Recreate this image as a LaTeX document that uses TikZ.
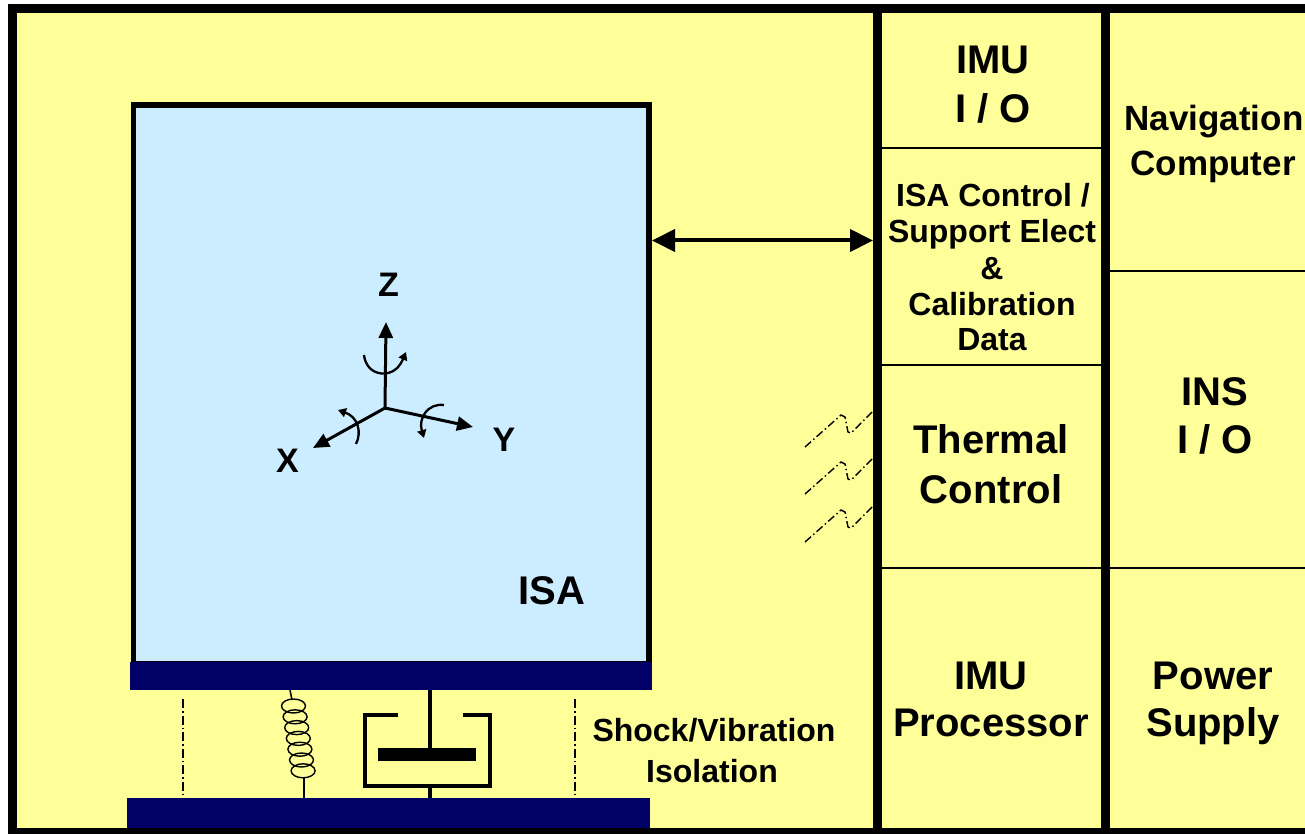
\documentclass[tikz,border=0pt]{standalone}
\usepackage{fontspec}
\setmainfont{Liberation Sans}
\usetikzlibrary{arrows.meta}
\definecolor{bgyellow}{RGB}{255,255,153}
\definecolor{isablue}{RGB}{204,236,255}
\definecolor{navybar}{RGB}{0,0,102}
\begin{document}
\begin{tikzpicture}[x=1pt,y=-1pt,
  lbl/.style={inner sep=0pt, text depth=0pt, anchor=center},
  big/.style={lbl, font=\fontsize{40}{48}\selectfont\bfseries, text height=28.6pt},
  navtxt/.style={lbl, font=\fontsize{35}{42}\selectfont\bfseries, text height=25pt},
  mid/.style={lbl, font=\fontsize{32}{38}\selectfont\bfseries, text height=22.9pt},
  axlbl/.style={lbl, font=\fontsize{34}{40}\selectfont\bfseries, text height=24.3pt},
  shock/.style={lbl, font=\fontsize{32}{38}\selectfont\bfseries, text height=22.9pt},
  thinline/.style={line width=1.5pt},
  thickline/.style={line width=9pt},
  axis/.style={line width=3pt, -{Triangle[length=16pt,width=14pt]}},
  rot/.style={line width=2.3pt, -{Triangle[length=8pt,width=9pt]}},
  dashdot/.style={line width=1.4pt, dash pattern=on 9pt off 3pt on 1.5pt off 3pt},
  heat/.style={line width=1.4pt, dash pattern=on 8pt off 3pt on 1.5pt off 3pt},
]
\useasboundingbox (0,0) rectangle (1305,834);
\fill[white] (0,0) rectangle (1305,834);
% outer frame
\draw[thickline, fill=bgyellow] (12.5,8.5) rectangle (1320,832.5);
% column dividers
\draw[thickline] (877.5,8.5) -- (877.5,832.5);
\draw[thickline] (1105.5,8.5) -- (1105.5,832.5);
\draw[thinline] (882,148) -- (1101,148);
\draw[thinline] (882,365) -- (1101,365);
\draw[thinline] (882,568) -- (1101,568);
\draw[thinline] (1110,271) -- (1316,271);
\draw[thinline] (1110,568) -- (1316,568);
% ISA box
\draw[line width=5.5pt, fill=isablue] (133.5,105) rectangle (649,664);
\fill[navybar] (130,662) rectangle (652,690);
\fill[navybar] (127,798) rectangle (650,828);
% double arrow
\coordinate (isaE) at (652,240.5);
\coordinate (panelW) at (873,240.5);
\draw[line width=4pt, {Triangle[length=23pt,width=22pt]}-{Triangle[length=23pt,width=22pt]}] (isaE) -- (panelW);
% axes
\coordinate (o) at (385,408);
\coordinate (zt) at (386,322);
\coordinate (xt) at (313,448);
\coordinate (yt) at (473,427);
\draw[axis] (o) -- (zt);
\draw[axis] (o) -- (xt);
\draw[axis] (o) -- (yt);
\draw[rot] (364,355) .. controls (366,372) and (380,375) .. (388,373) .. controls (396,371) and (400,366) .. (406,352);
\draw[rot] (356,444) .. controls (362,432) and (358,417) .. (338,410);
\draw[rot] (444,405) .. controls (428,403) and (418,418) .. (424,438);
\node[axlbl] (zl) at (388.5,284) {Z};
\node[axlbl] (xl) at (287.5,460.5) {X};
\node[axlbl] (yl) at (504,439) {Y};
\node[big] (isa) at (552,590) {ISA};
% isolation: dash-dot guides
\draw[dashdot] (183,699) -- (183,798);
\draw[dashdot] (575,699) -- (575,798);
% spring
\draw[thinline] (290,690) -- (292,700);
\foreach \i in {0,...,6} {
  \draw[line width=1.4pt] ({293.5+1.6*\i},{706+10.8*\i}) ellipse [x radius=12pt, y radius=7pt];
}
\draw[thinline] (304,778) -- (304,798);
% damper
\draw[line width=4pt] (430,690) -- (430,750);
\draw[line width=4pt] (398,715) -- (365,715) -- (365,786) -- (490,786) -- (490,715) -- (463,715);
\fill (378,748) rectangle (476,761);
\draw[line width=4pt] (430,786) -- (430,798);
\node[shock] (sv1) at (714,730) {Shock/Vibration};
\node[shock] (sv2) at (712,771) {Isolation};
% heat lines
\foreach \d in {0,47,95} {
  \draw[heat] (805,{447+\d}) -- (841,{415+\d}) -- (845,{417+\d}) -- (848,{432+\d}) -- (851,{433+\d}) -- (872,{412+\d});
}
% left column text
\node[big] (imu1) at (993,59.5) {IMU};
\node[big] (imu2) at (993,108) {I / O};
\node[mid] (c1) at (993,195.5) {ISA Control /};
\node[mid] (c2) at (992,231.5) {Support Elect};
\node[mid] (c3) at (992,268.5) {\&};
\node[mid] (c4) at (992,304) {Calibration};
\node[mid] (c5) at (992,339.5) {Data};
\node[big] (t1) at (991,439) {Thermal};
\node[big] (t2) at (991,489) {Control};
\node[big] (p1) at (991,675.5) {IMU};
\node[big] (p2) at (991,722.5) {Processor};
% right column text
\node[navtxt] (n1) at (1214,118) {Navigation};
\node[navtxt] (n2) at (1213,163.5) {Computer};
\node[big] (ins1) at (1215,391) {INS};
\node[big] (ins2) at (1215,439) {I / O};
\node[big] (pw1) at (1213,675.5) {Power};
\node[big] (pw2) at (1213,722.5) {Supply};
\end{tikzpicture}
\end{document}
